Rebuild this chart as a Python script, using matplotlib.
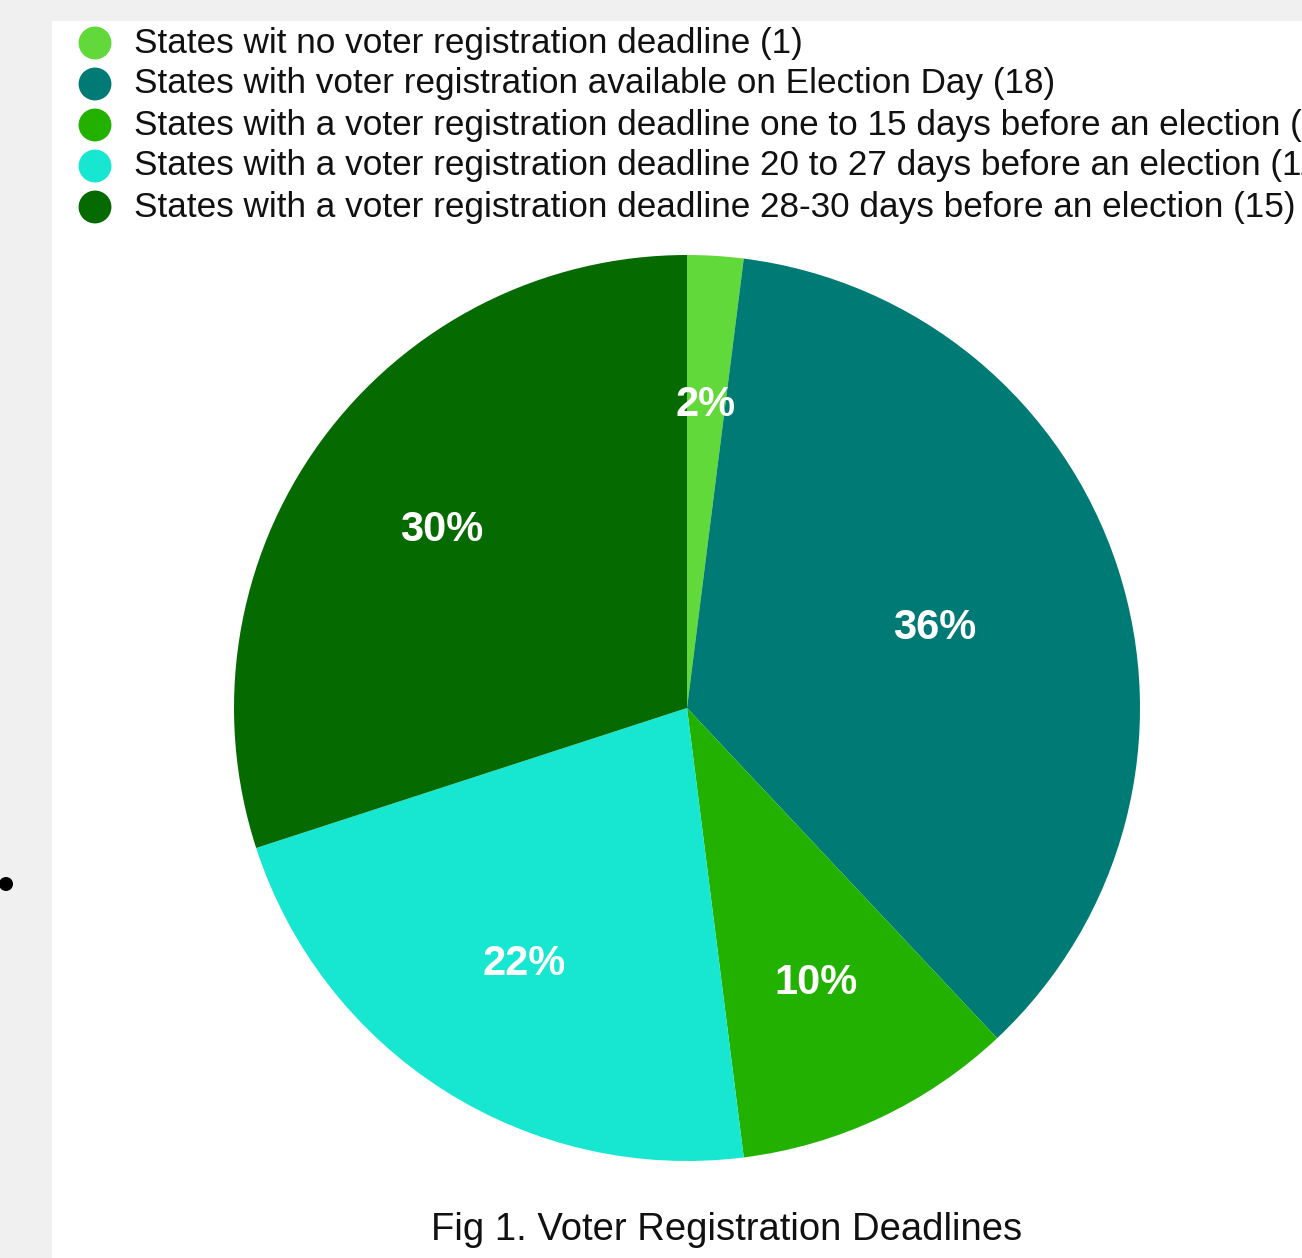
import matplotlib.pyplot as plt
import numpy as np

W, H = 1302, 1258

labels = [
    'States wit no voter registration deadline (1)',
    'States with voter registration available on Election Day (18)',
    'States with a voter registration deadline one to 15 days before an election (5)',
    'States with a voter registration deadline 20 to 27 days before an election (11)',
    'States with a voter registration deadline 28-30 days before an election (15)',
]
counts = [1, 18, 5, 11, 15]
colors = ['#62d93a', '#007a74', '#23b100', '#17e6d0', '#056b00']
caption = 'Fig 1. Voter Registration Deadlines'

plt.rcParams['font.family'] = ['Liberation Sans', 'DejaVu Sans']

fig = plt.figure(figsize=(W / 100, H / 100), dpi=100, facecolor='#f0f0f0')

# overlay in pixel coordinates for background panel, legend and caption
bg = fig.add_axes([0, 0, 1, 1], zorder=0)
bg.set_xlim(0, W)
bg.set_ylim(H, 0)
bg.axis('off')
bg.add_patch(plt.Rectangle((52, 21), W - 52, H - 21, facecolor='white', edgecolor='none'))
bg.add_patch(plt.Circle((6, 884), 7, facecolor='black', edgecolor='none'))

# legend rows run past the right edge, as in the screenshot
for i, (lab, col) in enumerate(zip(labels, colors)):
    y = 43 + i * 41
    bg.scatter([95], [y], s=560, color=col, edgecolors='none')
    bg.text(134, y, lab, fontsize=25.3, va='center', ha='left', color='#111111', clip_on=False)

bg.text(727, 1230, caption, fontsize=27.5, va='center', ha='center', color='#111111')

# pie
cx, cy, r = 687, 708, 453
ax = fig.add_axes([(cx - r) / W, 1 - (cy + r) / H, 2 * r / W, 2 * r / H], zorder=1)
wedges, texts, autotexts = ax.pie(
    counts, colors=colors, startangle=90, counterclock=False,
    autopct=lambda p: f'{p:.0f}%', pctdistance=0.67,
    wedgeprops=dict(linewidth=0),
    textprops=dict(color='white', fontsize=30, fontweight='bold'))
# the big slice label sits closer to the centre
x, y = autotexts[1].get_position()
autotexts[1].set_position((x * 0.575 / 0.67, y * 0.575 / 0.67))
ax.set_xlim(-1, 1)
ax.set_ylim(-1, 1)
ax.set_aspect('auto')

plt.savefig('out.png', dpi=100, facecolor=fig.get_facecolor())
